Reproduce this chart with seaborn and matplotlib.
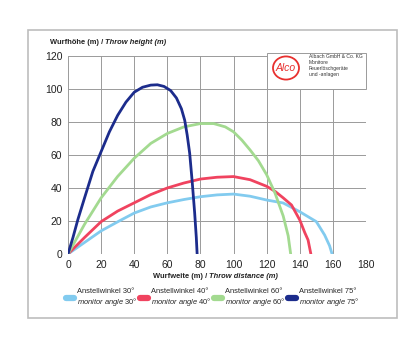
import numpy as np
import pandas as pd
import matplotlib
matplotlib.use("Agg")
import matplotlib.pyplot as plt
from matplotlib.lines import Line2D
from matplotlib.patches import Rectangle, Circle
import seaborn as sns

# throw curves (distance m, height m)
x30 = [0, 10, 20, 30, 40, 50, 60, 70, 80, 90, 100, 110, 120, 130, 140, 150, 155, 158, 159.5]
y30 = [0, 7, 14, 19.5, 24.8, 28.5, 31, 33, 34.7, 35.8, 36.3, 35, 32.7, 30.9, 25.6, 19.6, 11.5, 5, 0]
x40 = [0, 10, 20, 30, 40, 50, 60, 70, 80, 90, 100, 110, 120, 125, 130, 135, 140, 143, 145, 146.7]
y40 = [0, 10, 19.6, 26, 31, 36, 40, 43, 45.4, 46.5, 46.9, 45, 41, 38, 34, 29.7, 20.6, 13, 8.5, 0]
x60 = [0, 5, 10, 20, 30, 40, 50, 60, 70, 80, 88, 95, 100, 105, 110, 115, 120, 125, 130, 133, 134.5]
y60 = [0, 9, 18, 34, 47, 58, 67, 73, 77, 79, 79, 77, 74, 69, 63, 56.5, 48, 37, 23, 11, 0]
x75 = [0, 3, 6, 10, 15, 20, 25, 30, 35, 40, 45, 50, 54, 58, 62, 65.5, 68.5, 70.5, 72, 73.5, 75, 76.5, 77.5, 78]
y75 = [0, 10, 21, 34, 50, 62, 74, 84, 92, 98, 101, 102.3, 102.5, 101.5, 99, 94.5, 88, 81, 72, 61, 44, 25, 10, 0]

angles = ["30", "40", "60", "75"]
colors = ["#82cbef", "#f0435f", "#a3da90", "#1c2c8c"]
xticks = [0, 20, 40, 60, 80, 100, 120, 140, 160, 180]
yticks = [0, 20, 40, 60, 80, 100, 120]

frames = []
for a, xs, ys in zip(angles, [x30, x40, x60, x75], [y30, y40, y60, y75]):
    frames.append(pd.DataFrame({"x": xs, "y": ys, "angle": a}))
df = pd.concat(frames, ignore_index=True)

sns.set_theme(style="whitegrid")
plt.rcParams["font.family"] = ["Liberation Sans", "DejaVu Sans"]
plt.rcParams["mathtext.fontset"] = "custom"
plt.rcParams["mathtext.it"] = "Liberation Sans:italic"
plt.rcParams["mathtext.rm"] = "Liberation Sans"

fig = plt.figure(figsize=(4, 3.56), dpi=100)
fig.patch.set_facecolor("white")
ax = fig.add_axes([0.17, 0.2865, 0.745, 0.5565])

sns.lineplot(data=df, x="x", y="y", hue="angle", palette=colors, sort=False,
             estimator=None, lw=2.0, ax=ax, legend=False, zorder=3)

ax.set_xlim(0, 180)
ax.set_ylim(0, 120)
ax.set_xticks(xticks)
ax.set_yticks(yticks)
ax.grid(True, color="#9a9a9a", lw=0.7)
for s in ax.spines.values():
    s.set_visible(False)
ax.tick_params(length=0, labelsize=7.5, colors="#222222", pad=4)
ax.set_xlabel("")
ax.set_ylabel("")

# top-right cell blanked for the logo
ax.add_patch(Rectangle((120, 100), 60, 21.5, facecolor="white", edgecolor="#9a9a9a",
                       lw=0.7, zorder=2.5, clip_on=False))
fig.add_artist(Circle((286 / 400, 1 - 68 / 356), 13 / 400, transform=fig.transFigure,
                      facecolor="white", edgecolor="#e8302e", lw=1.3))
fig.text(286 / 400, 1 - 68 / 356, "Alco", color="#e8302e", fontsize=7.5,
         style="italic", ha="center", va="center")
fig.text(309 / 400, 1 - 54 / 356,
         "Albach GmbH & Co. KG\nMonitore\nFeuerlöschgeräte\nund -anlagen",
         fontsize=3.6, color="#333333", va="top", ha="left", linespacing=1.25)

# axis titles: bold + bold italic
t1 = fig.text(50 / 400, 1 - 42 / 356, "Wurfhöhe (m) / ", fontsize=5.4,
              fontweight="bold", va="center", color="#222222")
ax.annotate("Throw height (m)", xy=(1, 0), xycoords=t1, va="bottom", ha="left",
            fontsize=5.4, fontweight="bold", style="italic", color="#222222")
t2 = fig.text(153 / 400, 1 - 276 / 356, "Wurfweite (m) / ", fontsize=5.4,
              fontweight="bold", va="center", color="#222222")
ax.annotate("Throw distance (m)", xy=(1, 0), xycoords=t2, va="bottom", ha="left",
            fontsize=5.4, fontweight="bold", style="italic", color="#222222")

# legend
handles = [Line2D([0], [0], color=c, lw=4.5, solid_capstyle="round") for c in colors]
labels = [f"Anstellwinkel {a}°\n$\\it{{monitor\\ angle\\ {a}°}}$" for a in angles]
fig.legend(handles, labels, loc="center left", bbox_to_anchor=(66 / 400, 1 - 298 / 356),
           ncol=4, frameon=False, fontsize=5.4, handlelength=1.1, handletextpad=0.35,
           columnspacing=0.35, borderaxespad=0, borderpad=0)

# outer frame
fig.add_artist(Rectangle((28 / 400, 38 / 356), 369 / 400, 288 / 356, transform=fig.transFigure,
                         facecolor="none", edgecolor="#bdbdbd", lw=1.2))

fig.savefig("out.png", dpi=100)
